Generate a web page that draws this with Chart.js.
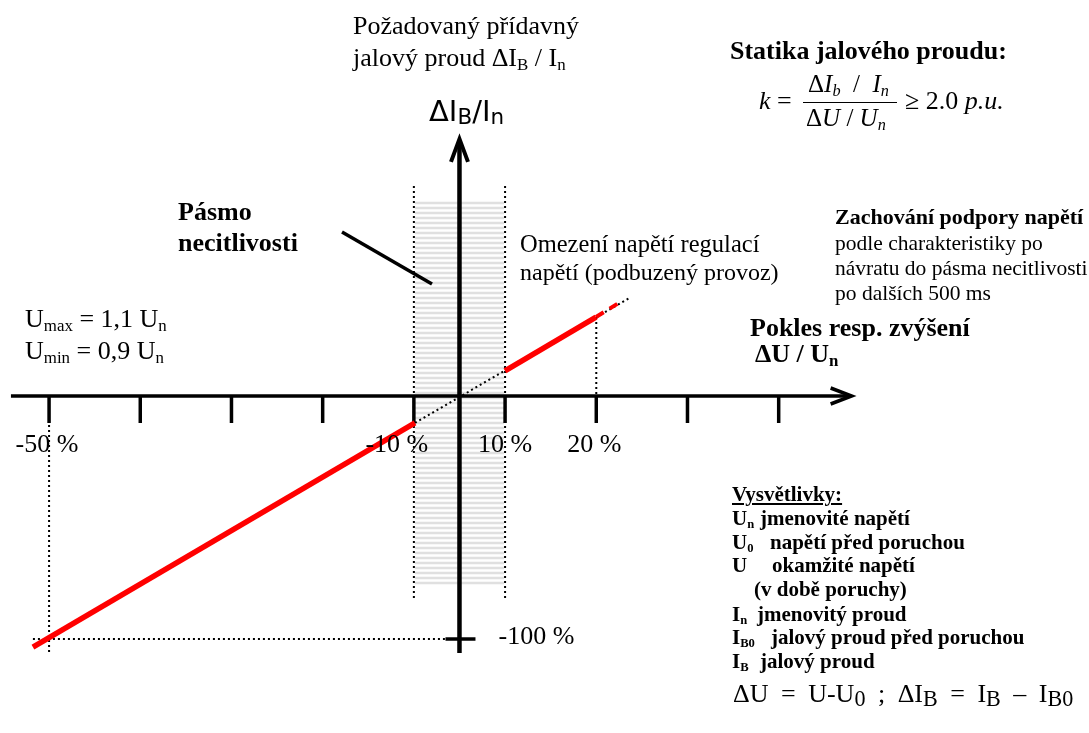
<!DOCTYPE html>
<html>
<head>
<meta charset="utf-8">
<script src="https://cdn.jsdelivr.net/npm/chart.js@4/dist/chart.umd.min.js"></script>
<style>
  html, body { margin: 0; padding: 0; background: #fff; }
  #wrap { position: relative; width: 1089px; height: 733px; overflow: hidden; }
  #c { position: absolute; left: 0; top: 0; }
  .t { position: absolute; white-space: nowrap; line-height: 1; color: #000;
       font-family: 'Liberation Serif', 'Times New Roman', serif; }
  .sans { font-family: 'DejaVu Sans', sans-serif; }
  .b { font-weight: bold; }
  .i { font-style: italic; }
  .s { font-size: 0.65em; vertical-align: -0.22em; line-height: 0; }
  .s3 { font-size: 0.6em; vertical-align: -0.2em; line-height: 0; }
  .s2 { font-size: 0.85em; vertical-align: -0.18em; line-height: 0; }
</style>
</head>
<body>
<div id="wrap"><canvas id="c" width="1089" height="733"></canvas></div>
<script>
// ---------- DATA (x: axis position in 10 % steps, dead band compressed to one step; y: ΔI_B/I_n in %) ----------
const tickPositions = [-4.5, -3.5, -2.5, -1.5, -0.5, 0.5, 1.5, 2.5, 3.5];
const tickLabels    = ['-50 %', '', '', '', '-10 %', '10 %', '20 %', '', ''];
const yTickValue = -100;
const yTickLabel = '-100 %';

// red characteristic, below the dead band
const redLowX = [-4.677, -0.488];
const redLowY = [-103.3, -11.1];
// red characteristic, above the dead band
const redHighX = [0.499, 1.497];
const redHighY = [10.3, 32.5];
// red dashed continuation (voltage limit)
const redDashX = [1.497, 1.782];
const redDashY = [32.5, 39.1];
// dotted characteristic through the origin
const dotLineX = [-0.488, 1.880];
const dotLineY = [-11.1, 40.7];
// dead band limits
const bandLeftX = [-0.5, -0.5];
const bandRightX = [0.5, 0.5];
const bandY = [86.4, -83.5];
const hatchTop = 79.4, hatchBottom = -78.6;
// guide lines
const guide50X = [-4.5, -4.5];
const guide50Y = [-9.9, -106.2];
const guide100X = [-4.677, -0.159];
const guide100Y = [-100, -100];
const guide20X = [1.5, 1.5];
const guide20Y = [32.5, 0];
// pointer to the dead band
const pointerX = [-1.288, -0.3015];
const pointerY = [67.5, 46.1];
// axes extents
const xAxisFrom = -4.918, xAxisTo = 4.30;
const yAxisFrom = -105.8, yAxisTo = 105.8;

// ---------- helpers ----------
const pts = (xs, ys) => xs.map((x, i) => ({ x: x, y: ys[i] }));

function seg(xs, ys, color, width, dash, order) {
  return {
    data: pts(xs, ys), showLine: true, borderColor: color, backgroundColor: color,
    borderWidth: width, borderDash: dash || [], pointRadius: 0, pointHoverRadius: 0,
    fill: false, tension: 0, order: order, borderCapStyle: 'butt'
  };
}

const DOT = [2, 3];
const datasets = [
  seg(redLowX, redLowY, '#ff0000', 5.5, null, 0),
  seg(redHighX, redHighY, '#ff0000', 5.5, null, 0),
  seg(redDashX, redDashY, '#ff0000', 4, [9, 7], 0),
  seg(pointerX, pointerY, '#000', 3.5, null, 1),
  seg(dotLineX, dotLineY, '#000', 2, DOT, 2),
  seg(bandLeftX, bandY, '#000', 2, DOT, 2),
  seg(bandRightX, bandY, '#000', 2, DOT, 2),
  seg(guide50X, guide50Y, '#000', 2, DOT, 2),
  seg(guide100X, guide100Y, '#000', 2, DOT, 2),
  seg(guide20X, guide20Y, '#000', 2, DOT, 2)
];

// plugin: hatch of the dead band, axes with arrows and tick marks
const diagramPlugin = {
  id: 'diagram',
  beforeDatasetsDraw(chart) {
    const ctx = chart.ctx, X = chart.scales.x, Y = chart.scales.y;
    ctx.save();
    // hatch
    const hx0 = X.getPixelForValue(bandLeftX[0]) + 1, hx1 = X.getPixelForValue(bandRightX[0]) - 1;
    const hy0 = Y.getPixelForValue(hatchTop), hy1 = Y.getPixelForValue(hatchBottom);
    ctx.strokeStyle = '#e0e0e0'; ctx.lineWidth = 2.5;
    for (let y = hy0; y <= hy1; y += 5) {
      ctx.beginPath(); ctx.moveTo(hx0, y); ctx.lineTo(hx1, y); ctx.stroke();
    }
    ctx.strokeStyle = '#000'; ctx.lineCap = 'butt';
    // x axis
    const y0 = Y.getPixelForValue(0);
    const xa = X.getPixelForValue(xAxisFrom), xb = X.getPixelForValue(xAxisTo);
    ctx.lineWidth = 3.5;
    ctx.beginPath(); ctx.moveTo(xa, y0); ctx.lineTo(xb - 2, y0); ctx.stroke();
    ctx.lineWidth = 3.5; ctx.lineJoin = 'miter';
    ctx.beginPath(); ctx.moveTo(xb - 21, y0 - 8); ctx.lineTo(xb, y0); ctx.lineTo(xb - 21, y0 + 8); ctx.stroke();
    // x ticks
    ctx.lineWidth = 3.5;
    tickPositions.forEach(p => {
      const px = X.getPixelForValue(p);
      ctx.beginPath(); ctx.moveTo(px, y0); ctx.lineTo(px, y0 + 27); ctx.stroke();
    });
    // y axis
    const x0 = X.getPixelForValue(0);
    const ya = Y.getPixelForValue(yAxisFrom), yb = Y.getPixelForValue(yAxisTo);
    ctx.lineWidth = 4.5;
    ctx.beginPath(); ctx.moveTo(x0, ya); ctx.lineTo(x0, yb + 2); ctx.stroke();
    ctx.lineWidth = 4;
    ctx.beginPath(); ctx.moveTo(x0 - 8.5, yb + 23); ctx.lineTo(x0, yb); ctx.lineTo(x0 + 8.5, yb + 23); ctx.stroke();
    // y tick (-100 %)
    const ty = Y.getPixelForValue(yTickValue);
    ctx.lineWidth = 3.5;
    ctx.beginPath(); ctx.moveTo(x0 - 14, ty); ctx.lineTo(x0 + 16, ty); ctx.stroke();
    ctx.restore();
  }
};

// scale ranges chosen so that the layout matches the diagram
const X_MIN = -5.038, X_MAX = 6.9025, Y_MIN = -138.68, Y_MAX = 162.96;

const chart = new Chart(document.getElementById('c'), {
  type: 'scatter',
  data: { datasets: datasets },
  options: {
    responsive: false, animation: false, devicePixelRatio: 1,
    layout: { padding: 0 },
    plugins: { legend: { display: false }, tooltip: { enabled: false } },
    events: [],
    scales: {
      x: { type: 'linear', min: X_MIN, max: X_MAX, display: false },
      y: { type: 'linear', min: Y_MIN, max: Y_MAX, display: false }
    }
  },
  plugins: [diagramPlugin]
});

// ---------- text ----------
const wrap = document.getElementById('wrap');
function put(html, x, base, size, cls, align, extra) {
  const d = document.createElement('div');
  d.className = 't ' + (cls || '');
  d.style.fontSize = size + 'px';
  if (extra) d.style.cssText += extra;
  const asc = (cls && cls.indexOf('sans') >= 0) ? 0.846 : 0.8375;
  d.style.top = (base - asc * size) + 'px';
  d.innerHTML = html;
  wrap.appendChild(d);
  if (align === 'center') d.style.left = (x - d.offsetWidth / 2) + 'px';
  else if (align === 'right') d.style.left = (x - d.offsetWidth) + 'px';
  else d.style.left = x + 'px';
  return d;
}

// tick labels from the scale
const labelShift = { '-50 %': -2, '-10 %': -17, '20 %': -2 };
tickLabels.forEach((lab, i) => {
  if (!lab) return;
  const px = chart.scales.x.getPixelForValue(tickPositions[i]);
  put(lab, px + (labelShift[lab] || 0), 453, 26, '', 'center');
});
put(yTickLabel, chart.scales.x.getPixelForValue(0) + 39, chart.scales.y.getPixelForValue(yTickValue) + 6, 26, '');

// titles and notes
put('Požadovaný přídavný', 353, 35, 26);
put('jalový proud ΔI<span class="s">B</span> / I<span class="s">n</span>', 353, 67, 26);
put('ΔI<span class="s" style="font-size:0.74em;vertical-align:-0.12em">B</span>/I<span class="s" style="font-size:0.74em;vertical-align:-0.12em">n</span>', 429, 122, 29, 'sans');

put('Statika jalového proudu:', 730, 60, 26, 'b');
// formula
put('<span class="i">k</span> =', 759, 110, 26);
put('Δ<span class="i">I</span><span class="s i">b</span>&nbsp; / &nbsp;<span class="i">I</span><span class="s i">n</span>', 808, 92, 25);
put('Δ<span class="i">U</span> / <span class="i">U</span><span class="s i">n</span>', 806, 126, 25);
(function () {
  const bar = document.createElement('div');
  bar.style.cssText = 'position:absolute;left:803px;top:102px;width:94px;height:1.3px;background:#000';
  wrap.appendChild(bar);
})();
put('≥ 2.0 <span class="i">p.u.</span>', 905, 110, 26);

put('Pásmo', 178, 221, 26, 'b');
put('necitlivosti', 178, 252, 26, 'b');

put('Omezení napětí regulací', 520, 253, 24.5);
put('napětí (podbuzený provoz)', 520, 280, 24);

put('Zachování podpory napětí', 835, 224, 22, 'b');
put('podle charakteristiky po', 835, 251, 21.5);
put('návratu do pásma necitlivosti', 835, 276, 21.5);
put('po dalších 500 ms', 835, 301, 21.5);

put('U<span class="s">max</span> = 1,1 U<span class="s">n</span>', 25, 328, 26);
put('U<span class="s">min</span> = 0,9 U<span class="s">n</span>', 25, 360, 26);

put('Pokles resp. zvýšení', 750, 337, 26, 'b');
put('ΔU / U<span class="s">n</span>', 755, 363, 26, 'b');

// legend of symbols
put('<span style="text-decoration:underline">Vysvětlivky:</span>', 732, 502, 21, 'b');
const legendRows = [
  ['U<span class="s3">n</span>', 'jmenovité napětí', 760, 526],
  ['U<span class="s3">0</span>', 'napětí před poruchou', 770, 550],
  ['U', 'okamžité napětí', 772, 573],
  ['', '(v době poruchy)', 754, 597],
  ['I<span class="s3">n</span>', 'jmenovitý proud', 757, 622],
  ['I<span class="s3">B0</span>', 'jalový proud před poruchou', 771, 645],
  ['I<span class="s3">B</span>', 'jalový proud', 760, 669]
];
legendRows.forEach(r => {
  if (r[0]) put(r[0], 732, r[3], 21, 'b');
  put(r[1], r[2], r[3], 21, 'b');
});

put('ΔU = U-U<span class="s2">0</span> ; ΔI<span class="s2">B</span> = I<span class="s2">B</span> – I<span class="s2">B0</span>', 733, 703, 26, '', null, 'word-spacing:6px;');
</script>
</body>
</html>
